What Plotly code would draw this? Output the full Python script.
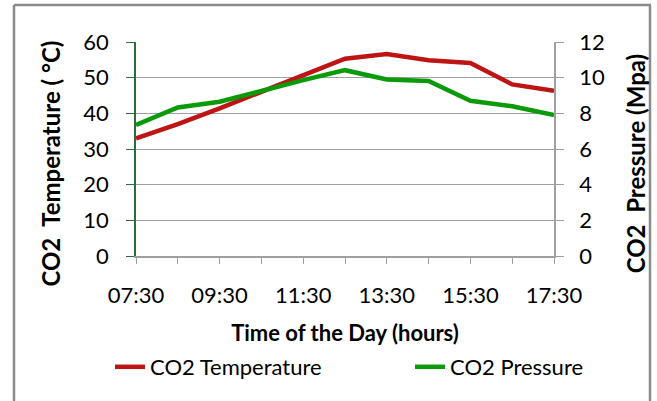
import plotly.graph_objects as go

times = ["07:30", "08:30", "09:30", "10:30", "11:30", "12:30",
         "13:30", "14:30", "15:30", "16:30", "17:30"]
tick_labels = ["07:30", "", "09:30", "", "11:30", "", "13:30", "", "15:30", "", "17:30"]
co2_temperature = [33.0, 37.0, 41.4, 46.0, 50.4, 55.3, 56.6, 54.9, 54.1, 48.1, 46.3]
co2_pressure = [7.35, 8.33, 8.65, 9.27, 9.86, 10.42, 9.9, 9.82, 8.7, 8.4, 7.9]

FONT = "Lato"
RED = "#BE1414"
GREEN = "#0A9A0A"
GRID = "#A0A0A0"

W, H = 657, 401
PAD = "\u00a0" * 5

fig = go.Figure()
fig.add_trace(go.Scatter(x=times, y=co2_temperature, mode="lines", name="CO2 Temperature",
                         line=dict(color=RED, width=4.5), yaxis="y", legend="legend"))
fig.add_trace(go.Scatter(x=times, y=co2_pressure, mode="lines", name="CO2 Pressure",
                         line=dict(color=GREEN, width=4.5), yaxis="y2", legend="legend2"))

leg_y = (H - 367) / H
fig.update_layout(
    width=W, height=H,
    margin=dict(l=136, r=W - 554, t=42, b=H - 256),
    paper_bgcolor="white", plot_bgcolor="white",
    font=dict(family=FONT, color="#000000"),
    showlegend=True,
    legend=dict(orientation="h", xref="container", x=110 / W, xanchor="left",
                yref="container", y=leg_y, yanchor="middle",
                font=dict(family=FONT, size=22), bgcolor="rgba(0,0,0,0)"),
    legend2=dict(orientation="h", xref="container", x=410 / W, xanchor="left",
                 yref="container", y=leg_y, yanchor="middle",
                 font=dict(family=FONT, size=22), bgcolor="rgba(0,0,0,0)"),
    xaxis=dict(type="category", range=[0, 10], tickvals=times, ticktext=tick_labels,
               automargin=False, ticklabelstandoff=13, tickangle=0,
               ticks="outside", ticklen=6, tickcolor=GRID, showline=True, linecolor=GRID,
               linewidth=1.5, showgrid=False, tickfont=dict(size=22, family=FONT),
               title=dict(text="<b>Time of the Day (hours)</b>", font=dict(size=22, family=FONT),
                          standoff=23)),
    yaxis=dict(range=[0, 60], dtick=10, ticks="outside", ticklen=8, tickcolor="#2E6B3A",
               automargin=False, ticklabelstandoff=13,
               showline=True, linecolor="#2E6B3A", linewidth=1.5, showgrid=True,
               gridcolor=GRID, gridwidth=1, zeroline=False,
               tickfont=dict(size=22, family=FONT),
               title=dict(text="<b>CO2  Temperature ( °C)" + PAD + "</b>",
                          font=dict(size=24, family=FONT), standoff=16)),
    yaxis2=dict(range=[0, 12], dtick=2, overlaying="y", side="right", ticks="outside",
                automargin=False, ticklabelstandoff=11,
                ticklen=8, tickcolor=GRID, showline=True, linecolor=GRID, linewidth=1.5,
                showgrid=False, zeroline=False, tickfont=dict(size=22, family=FONT),
                title=dict(text="<b>CO2  Pressure (Mpa)" + PAD + "</b>",
                           font=dict(size=24, family=FONT), standoff=24)),
)

# outer frame of the chart (pixel positions converted to paper coordinates)
def px_x(p):
    return (p - 136) / 418

def px_y(p):
    return (256 - p) / 214

frame = dict(color="#8C8C8C", width=2.5)
fig.add_shape(type="line", xref="paper", yref="paper", x0=px_x(14), x1=px_x(651),
              y0=px_y(5), y1=px_y(5), line=frame)
fig.add_shape(type="line", xref="paper", yref="paper", x0=px_x(14), x1=px_x(14),
              y0=px_y(5), y1=px_y(420), line=frame)
fig.add_shape(type="line", xref="paper", yref="paper", x0=px_x(650), x1=px_x(650),
              y0=px_y(5), y1=px_y(420), line=frame)

fig.write_html("out.html", post_script="document.body.style.margin='0';",
               config={"displayModeBar": False})
